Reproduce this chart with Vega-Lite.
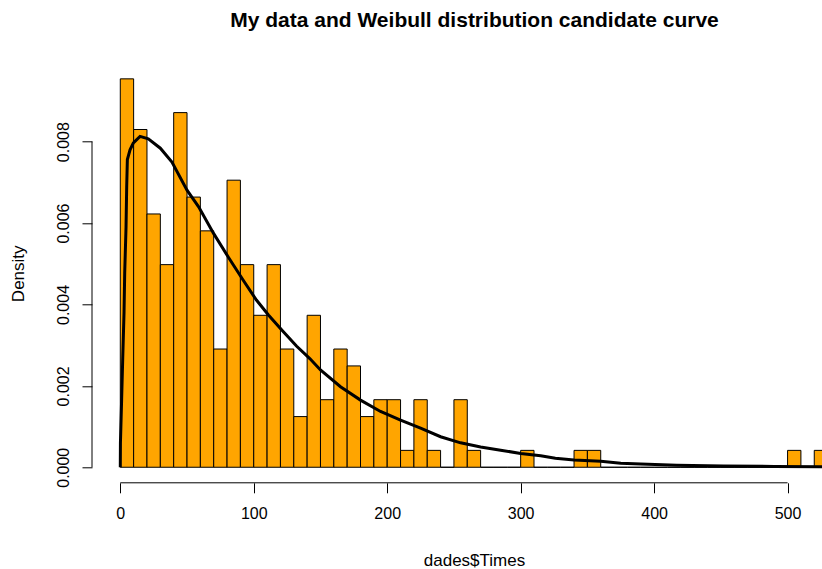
{
  "$schema": "https://vega.github.io/schema/vega-lite/v6.json",
  "autosize": {"type": "none"},
  "padding": {"left": 92, "top": 63.3, "right": 0, "bottom": 86.2},
  "width": 730,
  "height": 419.5,
  "background": "white",
  "config": {
    "view": {"stroke": null},
    "font": "Liberation Sans",
    "axis": {"grid": false, "domain": false, "tickColor": "black", "tickSize": 10, "labelColor": "black", "labelFont": "Liberation Sans", "labelFontSize": 16, "labelFlush": false, "labelOverlap": false, "titleFont": "Liberation Sans", "titleFontSize": 17, "titleFontWeight": "normal", "titleColor": "black"}
  },
  "title": {"text": "My data and Weibull distribution candidate curve", "font": "Liberation Sans", "fontSize": 21, "fontWeight": "bold", "color": "black", "anchor": "middle", "frame": "group", "dx": 17.5, "offset": 32},
  "datasets": {
    "bins": [
      {"start": 0, "end": 10, "density": 0.009544},
      {"start": 10, "end": 20, "density": 0.008299},
      {"start": 20, "end": 30, "density": 0.006224},
      {"start": 30, "end": 40, "density": 0.004979},
      {"start": 40, "end": 50, "density": 0.008714},
      {"start": 50, "end": 60, "density": 0.006639},
      {"start": 60, "end": 70, "density": 0.005809},
      {"start": 70, "end": 80, "density": 0.002905},
      {"start": 80, "end": 90, "density": 0.007054},
      {"start": 90, "end": 100, "density": 0.004979},
      {"start": 100, "end": 110, "density": 0.003734},
      {"start": 110, "end": 120, "density": 0.004979},
      {"start": 120, "end": 130, "density": 0.002905},
      {"start": 130, "end": 140, "density": 0.001245},
      {"start": 140, "end": 150, "density": 0.003734},
      {"start": 150, "end": 160, "density": 0.00166},
      {"start": 160, "end": 170, "density": 0.002905},
      {"start": 170, "end": 180, "density": 0.00249},
      {"start": 180, "end": 190, "density": 0.001245},
      {"start": 190, "end": 200, "density": 0.00166},
      {"start": 200, "end": 210, "density": 0.00166},
      {"start": 210, "end": 220, "density": 0.000415},
      {"start": 220, "end": 230, "density": 0.00166},
      {"start": 230, "end": 240, "density": 0.000415},
      {"start": 240, "end": 250, "density": 0},
      {"start": 250, "end": 260, "density": 0.00166},
      {"start": 260, "end": 270, "density": 0.000415},
      {"start": 270, "end": 280, "density": 0},
      {"start": 280, "end": 290, "density": 0},
      {"start": 290, "end": 300, "density": 0},
      {"start": 300, "end": 310, "density": 0.000415},
      {"start": 310, "end": 320, "density": 0},
      {"start": 320, "end": 330, "density": 0},
      {"start": 330, "end": 340, "density": 0},
      {"start": 340, "end": 350, "density": 0.000415},
      {"start": 350, "end": 360, "density": 0.000415},
      {"start": 360, "end": 370, "density": 0},
      {"start": 370, "end": 380, "density": 0},
      {"start": 380, "end": 390, "density": 0},
      {"start": 390, "end": 400, "density": 0},
      {"start": 400, "end": 410, "density": 0},
      {"start": 410, "end": 420, "density": 0},
      {"start": 420, "end": 430, "density": 0},
      {"start": 430, "end": 440, "density": 0},
      {"start": 440, "end": 450, "density": 0},
      {"start": 450, "end": 460, "density": 0},
      {"start": 460, "end": 470, "density": 0},
      {"start": 470, "end": 480, "density": 0},
      {"start": 480, "end": 490, "density": 0},
      {"start": 490, "end": 500, "density": 0},
      {"start": 500, "end": 510, "density": 0.000415},
      {"start": 510, "end": 520, "density": 0},
      {"start": 520, "end": 530, "density": 0.000415}
    ],
    "curve": [
      {"x": 0, "d": 0},
      {"x": 0.1, "d": 0.0006},
      {"x": 1, "d": 0.00166},
      {"x": 1.8, "d": 0.00264},
      {"x": 2.8, "d": 0.0038},
      {"x": 3.3, "d": 0.00477},
      {"x": 4.3, "d": 0.0059},
      {"x": 4.8, "d": 0.0069},
      {"x": 5.3, "d": 0.00756},
      {"x": 7.3, "d": 0.0078},
      {"x": 9.8, "d": 0.00797},
      {"x": 14.8, "d": 0.00813},
      {"x": 21, "d": 0.00807},
      {"x": 30, "d": 0.00784},
      {"x": 38.7, "d": 0.0075},
      {"x": 50, "d": 0.00681},
      {"x": 58.7, "d": 0.0064},
      {"x": 70, "d": 0.00574},
      {"x": 81, "d": 0.00516},
      {"x": 92, "d": 0.0046},
      {"x": 102, "d": 0.00411},
      {"x": 111, "d": 0.00374},
      {"x": 121, "d": 0.00337},
      {"x": 132, "d": 0.00298},
      {"x": 142, "d": 0.00267},
      {"x": 150, "d": 0.00239},
      {"x": 165, "d": 0.00198},
      {"x": 180, "d": 0.00165},
      {"x": 195, "d": 0.00137},
      {"x": 210, "d": 0.00116},
      {"x": 225, "d": 0.00096},
      {"x": 240, "d": 0.00075},
      {"x": 255, "d": 0.0006},
      {"x": 270, "d": 0.0005},
      {"x": 285, "d": 0.00042},
      {"x": 300, "d": 0.00034},
      {"x": 315, "d": 0.00028},
      {"x": 326, "d": 0.00022},
      {"x": 340, "d": 0.00018},
      {"x": 360, "d": 0.00015},
      {"x": 375, "d": 0.0001},
      {"x": 390, "d": 0.00008},
      {"x": 417, "d": 0.00005},
      {"x": 452, "d": 0.00003},
      {"x": 490, "d": 0.00002},
      {"x": 526, "d": 0.00001}
    ]
  },
  "layer": [
    {
      "data": {"name": "bins"},
      "mark": {"type": "rect", "fill": "#FFA500", "stroke": "black", "strokeWidth": 1, "clip": true},
      "encoding": {
        "x": {"field": "start", "type": "quantitative", "scale": {"domain": [-21.2, 525.8], "nice": false, "zero": false},
              "axis": {"values": [0, 100, 200, 300, 400, 500], "title": "dades$Times", "labelPadding": 13, "titleX": 382, "titleY": 83, "titleBaseline": "alphabetic", "titleAnchor": null, "titleAlign": "center"}},
        "x2": {"field": "end"},
        "y": {"field": "density", "type": "quantitative", "scale": {"domain": [-0.000382, 0.009926], "nice": false, "zero": false},
              "axis": {"values": [0, 0.002, 0.004, 0.006, 0.008], "format": ".3f", "title": "Density", "labelAngle": -90, "labelAlign": "center", "labelBaseline": "bottom", "labelPadding": 11, "titleAngle": -90, "titleX": -74, "titleY": 210, "titleAlign": "center", "titleBaseline": "middle"}},
        "y2": {"datum": 0}
      }
    },
    {
      "data": {"name": "curve"},
      "mark": {"type": "line", "color": "black", "strokeWidth": 3, "clip": true},
      "encoding": {
        "x": {"field": "x", "type": "quantitative"},
        "y": {"field": "d", "type": "quantitative"}
      }
    },
    {
      "data": {"values": [{"a": 0}]},
      "mark": {"type": "rule", "color": "black", "strokeWidth": 1},
      "encoding": {
        "x": {"datum": 0},
        "x2": {"datum": 500},
        "y": {"datum": -0.000382}
      }
    },
    {
      "data": {"values": [{"a": 0}]},
      "mark": {"type": "rule", "color": "black", "strokeWidth": 1},
      "encoding": {
        "x": {"datum": -21.2},
        "y": {"datum": 0},
        "y2": {"datum": 0.008}
      }
    }
  ]
}
